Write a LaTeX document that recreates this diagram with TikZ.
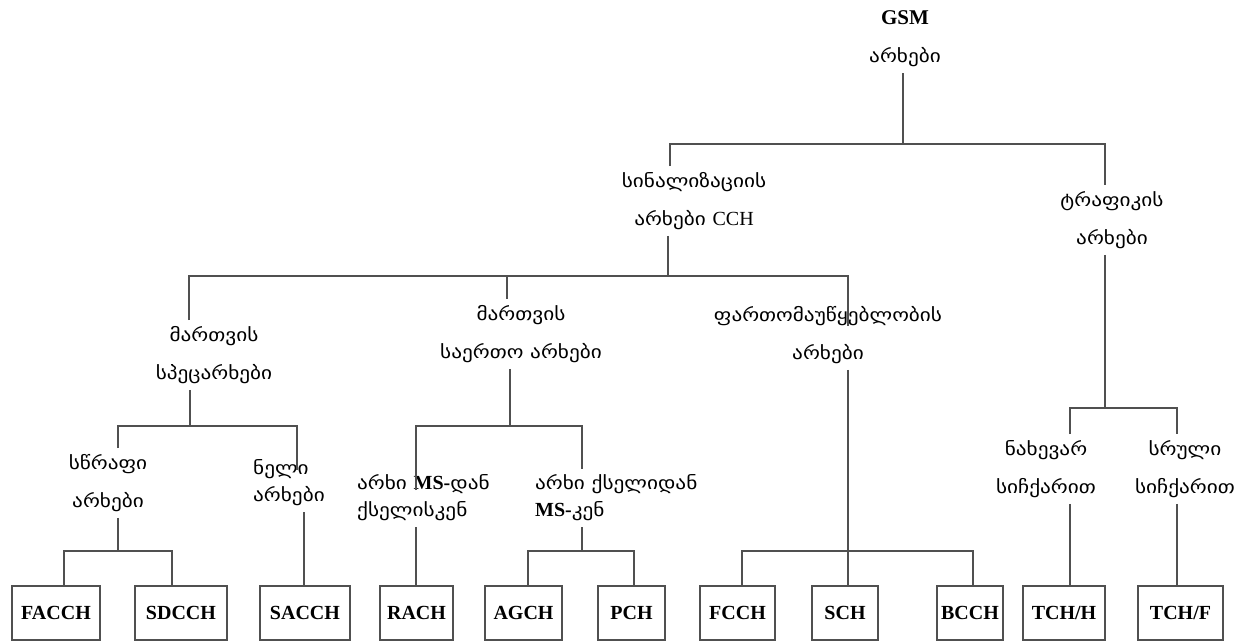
\documentclass[tikz,border=0pt]{standalone}
\usepackage{fontspec}
\setmainfont{Liberation Serif}
\newfontfamily\geo[FakeStretch=1.18]{DejaVu Sans}
\definecolor{linegray}{RGB}{80,80,80}
\begin{document}
\begin{tikzpicture}[x=1pt,y=-1pt,
  link/.style={draw=linegray,line width=1.8pt},
  chan/.style={draw=linegray,line width=1.8pt,minimum height=54pt,inner sep=0pt,
    font=\fontsize{20}{20}\selectfont\bfseries},
  lbl/.style={align=center,inner sep=6pt,font=\geo\fontsize{18}{38}\selectfont},
  lbll/.style={align=left,inner sep=6pt,font=\geo\fontsize{18}{27}\selectfont}]
\useasboundingbox (0,0) rectangle (1248,641);

% ---- labels ----
\node[lbl] (root) at (905,39) {{\rmfamily\bfseries\fontsize{21}{38}\selectfont GSM}\\არხები};
\node[lbl] (sig) at (694,201) {სინალიზაციის\\არხები {\rmfamily\fontsize{20}{38}\selectfont CCH}};
\node[lbl] (trf) at (1112,220) {ტრაფიკის\\არხები};
\node[lbl] (ded) at (214,355) {მართვის\\სპეცარხები};
\node[lbl] (com) at (521,334) {მართვის\\საერთო არხები};
\node[lbl] (bc) at (828,335) {ფართომაუწყებლობის\\არხები};
\node[lbl] (fast) at (108,483) {სწრაფი\\არხები};
\node[lbll,anchor=west] (slow) at (247,483) {ნელი\\არხები};
\node[lbll,anchor=west] (up) at (351,498) {არხი {\rmfamily\bfseries\fontsize{20}{27}\selectfont MS-}დან\\ქსელისკენ};
\node[lbll,anchor=west] (down) at (529,498) {არხი ქსელიდან\\{\rmfamily\bfseries\fontsize{20}{27}\selectfont MS-}კენ};
\node[lbl] (half) at (1046,469) {ნახევარ\\სიჩქარით};
\node[lbl] (full) at (1185,469) {სრული\\სიჩქარით};

% ---- channel boxes ----
\node[chan,minimum width=88pt] (facch) at (56,613) {FACCH};
\node[chan,minimum width=92pt] (sdcch) at (181,613) {SDCCH};
\node[chan,minimum width=90pt] (sacch) at (305,613) {SACCH};
\node[chan,minimum width=73pt] (rach) at (416.5,613) {RACH};
\node[chan,minimum width=77pt] (agch) at (523.5,613) {AGCH};
\node[chan,minimum width=67pt] (pch) at (631.5,613) {PCH};
\node[chan,minimum width=75pt] (fcch) at (737.5,613) {FCCH};
\node[chan,minimum width=66pt] (sch) at (845,613) {SCH};
\node[chan,minimum width=66pt] (bcch) at (970,613) {BCCH};
\node[chan,minimum width=82pt] (tchh) at (1064,613) {TCH/H};
\node[chan,minimum width=85pt] (tchf) at (1180.5,613) {TCH/F};

% ---- junctions of the tree ----
\coordinate (r0) at (903,144);
\coordinate (r0l) at (670,144);
\coordinate (r0r) at (1105,144);
\coordinate (c0) at (668,276);
\coordinate (c0l) at (189,276);
\coordinate (c0m) at (507,276);
\coordinate (c0r) at (848,276);
\coordinate (d0) at (190,426);
\coordinate (d0l) at (118,426);
\coordinate (d0r) at (297,426);
\coordinate (m0) at (510,426);
\coordinate (m0l) at (416,426);
\coordinate (m0r) at (582,426);
\coordinate (upstub) at (416,490);
\coordinate (f0) at (118,551);
\coordinate (f0l) at (64,551);
\coordinate (f0r) at (172,551);
\coordinate (a0) at (582,551);
\coordinate (a0l) at (528,551);
\coordinate (a0r) at (634,551);
\coordinate (b0) at (848,551);
\coordinate (b0l) at (742,551);
\coordinate (b0r) at (973,551);
\coordinate (t0) at (1105,408);
\coordinate (t0l) at (1070,408);
\coordinate (t0r) at (1177,408);

% ---- connectors ----
\draw[link] (r0 |- root.south) -- (r0);
\draw[link] (r0l |- sig.north) |- (r0r) -- (r0r |- trf.north);

\draw[link] (c0 |- sig.south) -- (c0);
\draw[link] (c0l |- ded.north) |- (c0r) -- ([yshift=-26pt]c0r |- bc.north);
\draw[link] (c0m) -- (c0m |- com.north);

\draw[link] (d0 |- ded.south) -- (d0);
\draw[link] (d0l |- fast.north) |- (d0r) -- ([yshift=-16pt]d0r |- slow.north);

\draw[link] (m0 |- com.south) -- (m0);
\draw[link] (upstub) |- (m0r) -- (m0r |- down.north);

\draw[link] (f0 |- fast.south) -- (f0);
\draw[link] (f0l |- facch.north) |- (f0r) -- (f0r |- sdcch.north);
\draw[link] (304,0 |- slow.south) -- (304,0 |- sacch.north);

\draw[link] (m0l |- up.south) -- (m0l |- rach.north);
\draw[link] (a0 |- down.south) -- (a0);
\draw[link] (a0l |- agch.north) |- (a0r) -- (a0r |- pch.north);

\draw[link] (b0 |- bc.south) -- (b0 |- sch.north);
\draw[link] (b0l |- fcch.north) |- (b0r) -- (b0r |- bcch.north);

\draw[link] (t0 |- trf.south) -- (t0);
\draw[link] (t0l |- half.north) |- (t0r) -- (t0r |- full.north);
\draw[link] (t0l |- half.south) -- (t0l |- tchh.north);
\draw[link] (t0r |- full.south) -- (t0r |- tchf.north);
\end{tikzpicture}
\end{document}
